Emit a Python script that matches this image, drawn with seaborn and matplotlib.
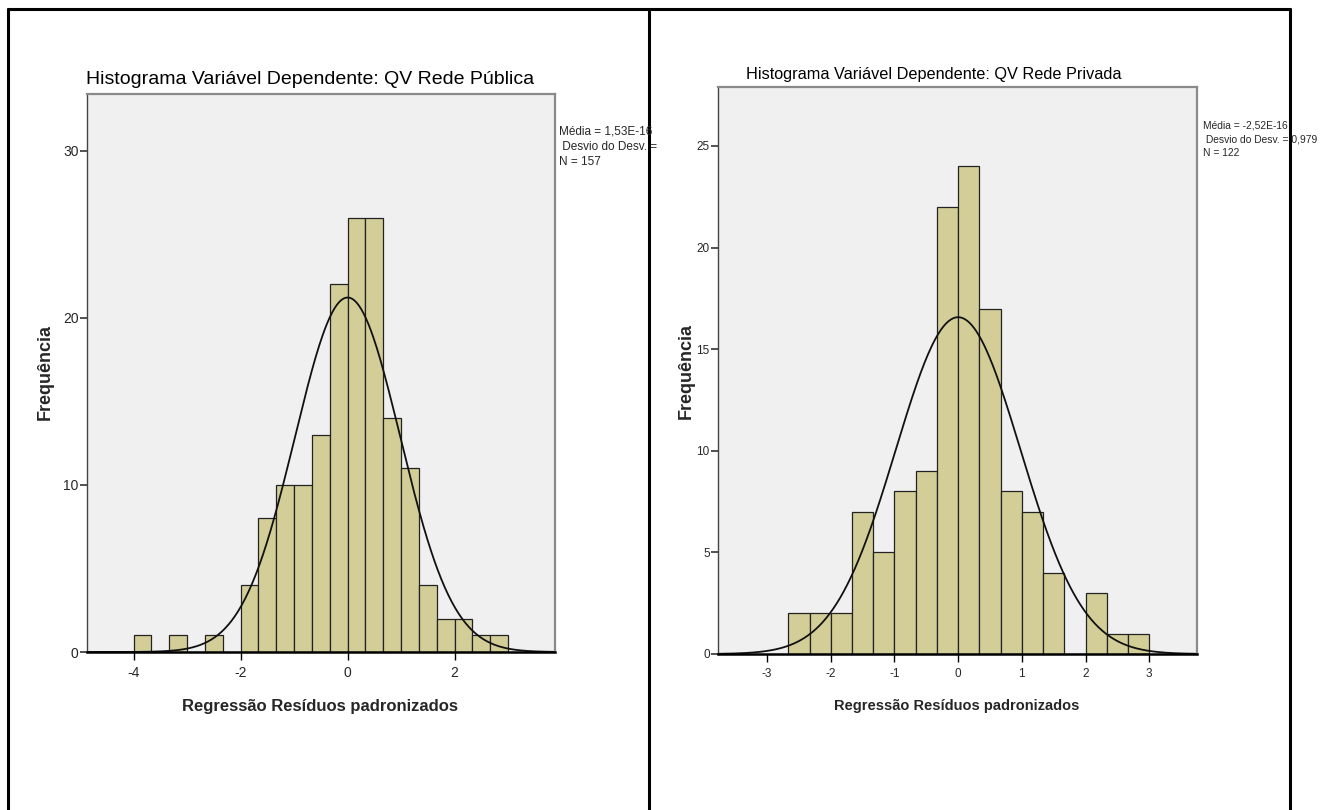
import numpy as np
import pandas as pd
import matplotlib
matplotlib.use("Agg")
import matplotlib.pyplot as plt
import seaborn as sns
from matplotlib.lines import Line2D

# Histogram counts (bin width = 1/3)
bin_width = 1 / 3
pub_first_edge = -4.0
pub_counts = [1, 0, 1, 0, 1, 0, 4, 8, 10, 10, 13, 22, 26, 26, 14, 11, 4, 2, 2, 1, 1]
pub_mean, pub_sd, pub_n = 1.53e-16, 0.984, 157

priv_first_edge = -8 / 3
priv_counts = [2, 2, 2, 7, 5, 8, 9, 22, 24, 17, 8, 7, 4, 0, 3, 1, 1]
priv_mean, priv_sd, priv_n = -2.52e-16, 0.979, 122

pub_xticks = [-4, -2, 0, 2]
pub_yticks = [0, 10, 20, 30]
priv_xticks = [-3, -2, -1, 0, 1, 2, 3]
priv_yticks = [0, 5, 10, 15, 20, 25]

sns.set_style("white")
plt.rcParams["font.family"] = ["Liberation Sans", "DejaVu Sans"]

W, H = 1328, 810
fig = plt.figure(figsize=(W / 100, H / 100), dpi=100)
fig.patch.set_facecolor("white")

bar_color = "#D3CE98"


def draw_panel(ax, first_edge, counts, mean, sd, n, xlim, ylim, xticks, yticks, tick_size):
    edges = first_edge + bin_width * np.arange(len(counts) + 1)
    df = pd.DataFrame({"resid": (edges[:-1] + edges[1:]) / 2, "count": counts})
    sns.histplot(data=df, x="resid", weights="count", binwidth=bin_width,
                 binrange=(float(edges[0]), float(edges[-1])), ax=ax, color=bar_color,
                 edgecolor="#222222", linewidth=0.9, alpha=1)
    # fitted normal curve, scaled to counts per bin
    xs = np.linspace(xlim[0], xlim[1], 400)
    ys = n * bin_width * np.exp(-0.5 * ((xs - mean) / sd) ** 2) / (sd * np.sqrt(2 * np.pi))
    sns.lineplot(x=xs, y=ys, ax=ax, color="#111111", linewidth=1.3)
    ax.set_xlim(xlim)
    ax.set_ylim(ylim)
    ax.set_facecolor("#F0F0F0")
    ax.set_xticks(xticks)
    ax.set_yticks(yticks)
    ax.set_xticklabels([str(t) for t in xticks], fontsize=tick_size)
    ax.set_yticklabels([str(t) for t in yticks], fontsize=tick_size)
    ax.tick_params(axis="x", direction="out", length=6, width=1, color="black", pad=4, bottom=True)
    ax.tick_params(axis="y", direction="out", length=5, width=1.2, color="#333333", pad=1, left=True)
    ax.set_xlabel("")
    ax.set_ylabel("")
    for side in ["top", "right"]:
        ax.spines[side].set_color("#8a8a8a")
        ax.spines[side].set_linewidth(1.6)
    ax.spines["left"].set_color("#444444")
    ax.spines["left"].set_linewidth(1.0)
    ax.spines["bottom"].set_color("black")
    ax.spines["bottom"].set_linewidth(1.8)


ax1 = fig.add_axes([87 / W, 1 - 652 / H, 468 / W, 558 / H])
draw_panel(ax1, pub_first_edge, pub_counts, pub_mean, pub_sd, pub_n,
           (-4.87, 3.875), (0, 33.4), pub_xticks, pub_yticks, 10)

ax2 = fig.add_axes([718 / W, 1 - 654 / H, 479 / W, 567 / H])
draw_panel(ax2, priv_first_edge, priv_counts, priv_mean, priv_sd, priv_n,
           (-3.77, 3.75), (0, 27.9), priv_xticks, priv_yticks, 8.5)

# titles, axis labels, stats boxes
fig.text(310 / W, 1 - 80 / H, "Histograma Variável Dependente: QV Rede Pública",
         ha="center", va="center", fontsize=14, color="black")
fig.text(934 / W, 1 - 75 / H, "Histograma Variável Dependente: QV Rede Privada",
         ha="center", va="center", fontsize=11.7, color="black")

fig.text(320 / W, 1 - 707 / H, "Regressão Resíduos padronizados",
         ha="center", va="center", fontsize=12, fontweight="bold")
fig.text(957 / W, 1 - 706 / H, "Regressão Resíduos padronizados",
         ha="center", va="center", fontsize=10.5, fontweight="bold")

fig.text(45 / W, 1 - 372 / H, "Frequência", rotation=90, ha="center", va="center",
         fontsize=13, fontweight="bold")
fig.text(686 / W, 1 - 371 / H, "Frequência", rotation=90, ha="center", va="center",
         fontsize=13, fontweight="bold")

fig.text(559 / W, 1 - 147 / H, "Média = 1,53E-16\n Desvio do Desv. =\nN = 157",
         ha="left", va="center", fontsize=8.5, linespacing=1.35)
fig.text(1203 / W, 1 - 139 / H, "Média = -2,52E-16\n Desvio do Desv. = 0,979\nN = 122",
         ha="left", va="center", fontsize=7.4, linespacing=1.45)

# table-like cell borders around the two charts
border = dict(color="black", linewidth=2.2, transform=fig.transFigure)
fig.add_artist(Line2D([8 / W, 1290 / W], [1 - 9 / H, 1 - 9 / H], **border))
for xb in [8, 649, 1290]:
    fig.add_artist(Line2D([xb / W, xb / W], [1 - 9 / H, 0], **border))

fig.savefig("out.png", dpi=100, facecolor="white")
